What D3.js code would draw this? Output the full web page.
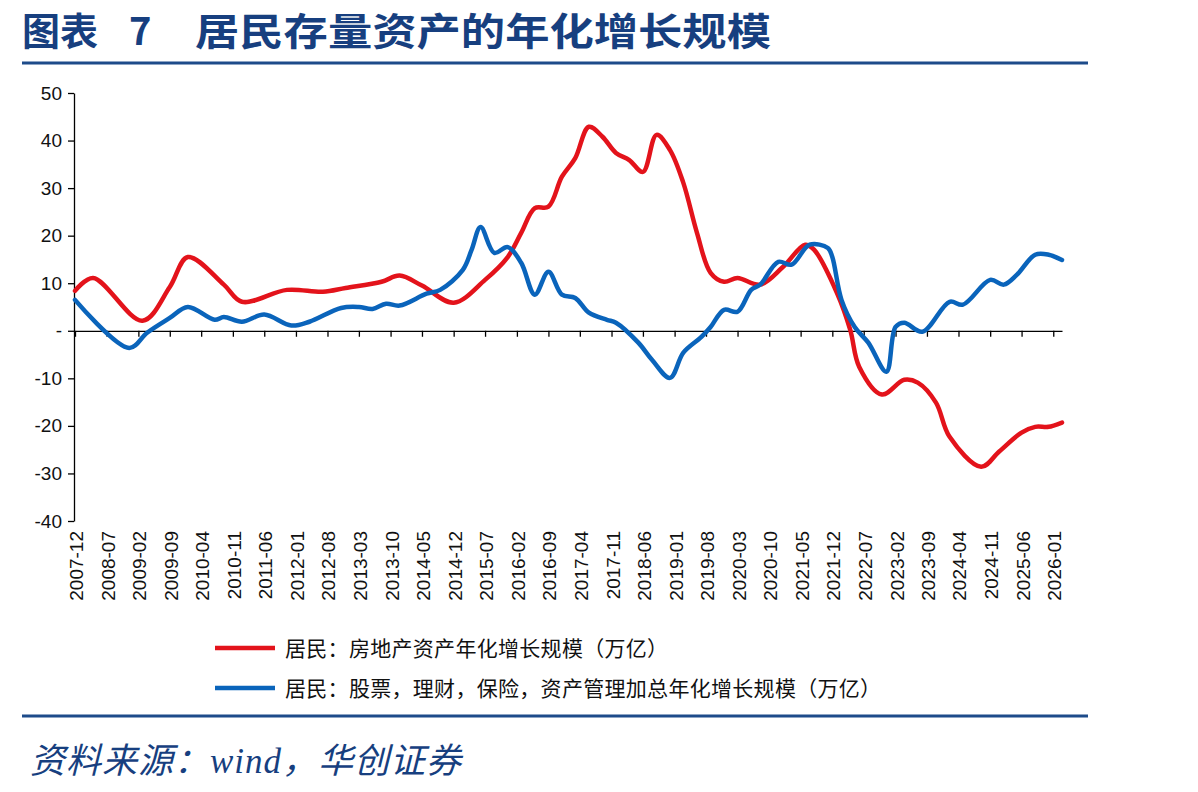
<!DOCTYPE html>
<html>
<head>
<meta charset="utf-8">
<script src="https://cdn.jsdelivr.net/npm/d3@7"></script>
<style>
  body { margin: 0; background: #fff; }
</style>
</head>
<body>
<svg id="chart" width="1198" height="792"></svg>
<script>
// 横轴刻度标签（每 7 个月一个）
const tickLabels = [
  "2007-12", "2008-07", "2009-02", "2009-09", "2010-04", "2010-11", "2011-06", "2012-01",
  "2012-08", "2013-03", "2013-10", "2014-05", "2014-12", "2015-07", "2016-02", "2016-09",
  "2017-04", "2017-11", "2018-06", "2019-01", "2019-08", "2020-03", "2020-10", "2021-05",
  "2021-12", "2022-07", "2023-02", "2023-09", "2024-04", "2024-11", "2025-06", "2026-01"
];
const yTicks = [50, 40, 30, 20, 10, 0, -10, -20, -30, -40];

// 居民：房地产资产年化增长规模（万亿）
const realEstate = [
  ["2007-12", 8.4], ["2008-04", 11.1], ["2009-03", 2.1], ["2009-09", 9.2], ["2010-01", 15.5],
  ["2010-09", 9.7], ["2011-01", 6.1], ["2011-11", 8.6], ["2012-07", 8.2], ["2012-12", 9.0],
  ["2013-08", 10.3], ["2013-12", 11.6], ["2014-05", 9.5], ["2014-12", 5.9], ["2015-07", 10.7],
  ["2015-12", 15.5], ["2016-03", 20.6], ["2016-06", 25.8], ["2016-09", 26.1], ["2016-12", 32.4],
  ["2017-03", 36.3], ["2017-06", 42.9], ["2017-09", 40.8], ["2017-12", 37.4], ["2018-03", 35.9],
  ["2018-06", 33.4], ["2018-09", 41.2], ["2018-12", 38.0], ["2019-03", 31.1], ["2019-06", 20.6],
  ["2019-09", 12.2], ["2019-12", 10.3], ["2020-03", 11.1], ["2020-08", 9.7], ["2021-01", 13.4],
  ["2021-06", 18.1], ["2021-08", 17.0], ["2022-01", 8.0], ["2022-04", 0.2], ["2022-06", -7.6],
  ["2022-11", -13.4], ["2023-04", -10.3], ["2023-07", -10.9], ["2023-11", -15.1], ["2024-02", -22.3],
  ["2024-09", -28.6], ["2025-01", -25.4], ["2025-06", -21.4], ["2025-09", -20.2], ["2025-12", -20.2],
  ["2026-03", -19.3]
];

// 居民：股票，理财，保险，资产管理加总年化增长规模（万亿）
const financial = [
  ["2007-12", 6.5], ["2008-12", -3.6], ["2009-04", -0.4], ["2009-09", 2.7], ["2010-01", 5.0],
  ["2010-07", 2.3], ["2010-09", 2.9], ["2011-01", 1.9], ["2011-06", 3.4], ["2011-12", 1.1],
  ["2012-04", 1.9], ["2012-11", 4.8], ["2013-03", 5.0], ["2013-06", 4.6], ["2013-09", 5.7],
  ["2013-12", 5.3], ["2014-06", 7.8], ["2014-09", 8.6], ["2015-02", 12.8], ["2015-04", 17.0],
  ["2015-06", 21.8], ["2015-09", 16.4], ["2015-12", 17.6], ["2016-03", 14.3], ["2016-06", 7.6],
  ["2016-09", 12.4], ["2016-12", 7.6], ["2017-03", 6.9], ["2017-06", 3.8], ["2017-10", 2.3],
  ["2017-12", 1.7], ["2018-05", -2.5], ["2018-08", -6.1], ["2018-12", -9.9], ["2019-03", -4.6],
  ["2019-07", -1.3], ["2019-09", 0.8], ["2019-12", 4.4], ["2020-03", 4.0], ["2020-06", 8.6],
  ["2020-08", 9.7], ["2020-12", 14.5], ["2021-03", 13.9], ["2021-07", 18.1], ["2021-11", 17.4],
  ["2021-12", 15.5], ["2022-02", 6.5], ["2022-05", 0.8], ["2022-08", -2.5], ["2022-12", -8.6],
  ["2023-02", 0.8], ["2023-04", 1.7], ["2023-08", -0.2], ["2024-02", 6.1], ["2024-05", 5.5],
  ["2024-11", 10.7], ["2025-02", 9.7], ["2025-05", 11.8], ["2025-09", 16.0], ["2025-12", 16.0],
  ["2026-03", 14.9]
];

const seriesNames = [
  "居民：房地产资产年化增长规模（万亿）",
  "居民：股票，理财，保险，资产管理加总年化增长规模（万亿）"
];
const seriesColors = ["#e3131b", "#0a64bb"];

const navy = "#173f7f";
const parse = d3.timeParse("%Y-%m");
const svg = d3.select("#chart");

// 比例尺
const x = d3.scaleTime()
  .domain([parse("2007-12"), parse("2026-03")])
  .range([75, 1062]);
const y = d3.scaleLinear()
  .domain([-40, 50])
  .range([521, 93]);

// 标题
const title = svg.append("text")
  .attr("y", 45)
  .attr("fill", navy)
  .attr("font-family", "'Noto Sans CJK SC', sans-serif")
  .attr("font-weight", 700)
  .attr("font-size", "38px");
title.append("tspan").attr("x", 22).text("图表");
title.append("tspan").attr("x", 129).text("7");
title.append("tspan").attr("x", 195)
  .attr("textLength", 576).attr("lengthAdjust", "spacingAndGlyphs")
  .text("居民存量资产的年化增长规模");

// 上下两条分隔线
[63, 716].forEach(yy => {
  svg.append("line")
    .attr("x1", 22).attr("x2", 1088)
    .attr("y1", yy).attr("y2", yy)
    .attr("stroke", "#1d4b8a")
    .attr("stroke-width", 3);
});

// 纵轴
svg.append("g")
  .attr("transform", "translate(74,0)")
  .call(d3.axisLeft(y).tickValues(yTicks).tickSize(6).tickSizeOuter(0)
    .tickFormat(d => d === 0 ? "-" : d))
  .call(g => g.selectAll("path,line").attr("stroke", "#000").attr("stroke-width", 1.3))
  .call(g => g.selectAll("text")
    .attr("x", -12)
    .attr("fill", "#111")
    .attr("font-family", "'Liberation Sans', Arial, sans-serif")
    .attr("font-size", "19px"));

// 横轴（零线）
const tickDates = tickLabels.map(parse);
svg.append("g")
  .attr("transform", `translate(0,${y(0)})`)
  .call(d3.axisBottom(x).tickValues(tickDates).tickSize(6).tickSizeOuter(0).tickFormat(""))
  .call(g => g.selectAll("path,line").attr("stroke", "#000").attr("stroke-width", 1.3));

// 横轴标签（竖排）
svg.append("g")
  .selectAll("text")
  .data(tickLabels)
  .join("text")
    .attr("transform", d => `translate(${x(parse(d)) + 8},531) rotate(-90)`)
    .attr("text-anchor", "end")
    .attr("fill", "#111")
    .attr("font-family", "'Liberation Sans', Arial, sans-serif")
    .attr("font-size", "19px")
    .text(d => d);

// 折线
const line = d3.line()
  .x(d => x(parse(d[0])))
  .y(d => y(d[1]))
  .curve(d3.curveCatmullRom.alpha(0.5));

[realEstate, financial].forEach((s, i) => {
  svg.append("path")
    .datum(s)
    .attr("d", line)
    .attr("fill", "none")
    .attr("stroke", seriesColors[i])
    .attr("stroke-width", 4.5)
    .attr("stroke-linejoin", "round")
    .attr("stroke-linecap", "round");
});

// 图例
const legend = svg.append("g")
  .selectAll("g")
  .data(seriesNames)
  .join("g")
    .attr("transform", (d, i) => `translate(215,${648 + i * 40})`);
legend.append("line")
  .attr("x1", 0).attr("x2", 60)
  .attr("stroke", (d, i) => seriesColors[i])
  .attr("stroke-width", 4.5);
legend.append("text")
  .attr("x", 70).attr("y", 7.5)
  .attr("fill", "#111")
  .attr("font-family", "'Noto Sans CJK SC', sans-serif")
  .attr("font-size", "21px")
  .attr("letter-spacing", "0.3px")
  .text(d => d);

// 资料来源
const src = svg.append("text")
  .attr("x", 30).attr("y", 773)
  .attr("fill", navy)
  .attr("font-style", "italic")
  .attr("font-size", "35px")
  .attr("letter-spacing", "1px")
  .attr("font-family", "'Noto Sans CJK SC', sans-serif");
src.append("tspan").text("资料来源：");
src.append("tspan").attr("font-family", "'Liberation Serif', serif").text("wind");
src.append("tspan").text("，华创证券");
</script>
</body>
</html>
